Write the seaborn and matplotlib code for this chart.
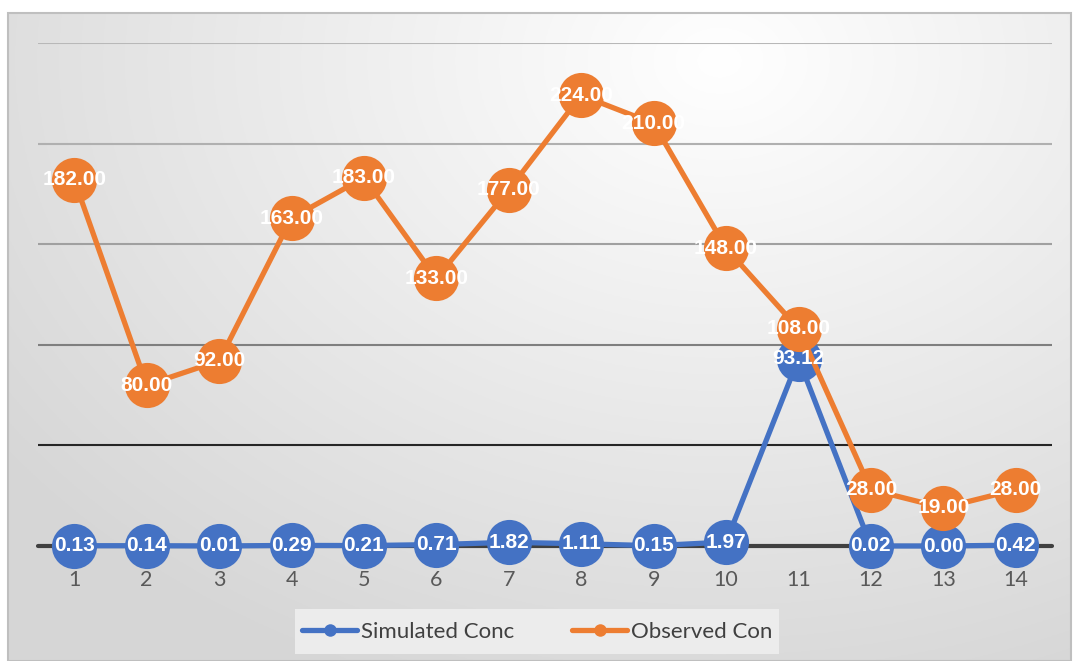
import numpy as np
import pandas as pd
import matplotlib
matplotlib.use("Agg")
import matplotlib.pyplot as plt
from matplotlib.lines import Line2D
from matplotlib.patches import Rectangle
import seaborn as sns

categories = [1, 2, 3, 4, 5, 6, 7, 8, 9, 10, 11, 12, 13, 14]
simulated = [0.13, 0.14, 0.01, 0.29, 0.21, 0.71, 1.82, 1.11, 0.15, 1.97, 93.12, 0.02, 0.00, 0.42]
observed = [182.00, 80.00, 92.00, 163.00, 183.00, 133.00, 177.00, 224.00, 210.00, 148.00, 108.00, 28.00, 19.00, 28.00]
series_names = ["Simulated Conc", "Observed Con"]

BLUE = "#4472C4"
ORANGE = "#ED7D31"

sns.set_theme(style="white")
plt.rcParams["font.family"] = ["Lato", "DejaVu Sans"]

W, H = 1073, 661
fig = plt.figure(figsize=(W / 100, H / 100), dpi=100)
fig.patch.set_facecolor("white")

# gradient background inside chart border
bx0, by0, bx1, by1 = 8, 13, 1071, 661
bg = fig.add_axes([bx0 / W, 1 - by1 / H, (bx1 - bx0) / W, (by1 - by0) / H])
gy, gx = np.mgrid[0:300, 0:500]
gx = gx / 499 * (bx1 - bx0) + bx0
gy = gy / 299 * (by1 - by0) + by0
d = np.sqrt(((gx - 720) / 1.0) ** 2 + ((gy - 60) / 0.75) ** 2)
v = 1.0 - np.clip(d / 900, 0, 1) * 0.16
v = np.clip(v, 0.84, 1.0)
bg.imshow(np.dstack([v, v, v]), aspect="auto", extent=[0, 1, 0, 1], origin="upper")
bg.set_xlim(0, 1)
bg.set_ylim(0, 1)
bg.axis("off")
fig.add_artist(Rectangle((bx0 / W, 1 - by1 / H), (bx1 - bx0) / W, (by1 - by0) / H,
                         transform=fig.transFigure, fill=False, edgecolor="#bfbfbf", lw=1.5, zorder=5))

ax = fig.add_axes([38 / W, 1 - 546 / H, (1052 - 38) / W, (546 - 43) / H])
ax.set_facecolor("none")

df = pd.DataFrame({"idx": np.arange(len(categories)), "sim": simulated, "obs": observed})

# gridlines
grid_vals = [50, 100, 150, 200, 250]
grid_cols = ["#262626", "#7f7f7f", "#a0a0a0", "#b0b0b0", "#b8b8b8"]
for gv, gc in zip(grid_vals, grid_cols):
    ax.axhline(gv, color=gc, lw=1.5, zorder=1)
ax.axhline(0, color="#404040", lw=3, zorder=1, clip_on=False)

ms = 32.5
lw = 3.8
sns.lineplot(data=df, x="idx", y="sim", ax=ax, color=BLUE, marker="o", markersize=ms,
             linewidth=lw, markeredgewidth=0, zorder=3, legend=False, clip_on=False)
sns.lineplot(data=df, x="idx", y="obs", ax=ax, color=ORANGE, marker="o", markersize=ms,
             linewidth=lw, markeredgewidth=0, zorder=4, legend=False, clip_on=False)

for i, (s, o) in enumerate(zip(simulated, observed)):
    ax.text(i, s, f"{s:.2f}", color="white", fontsize=15, fontweight="bold",
            family=["Liberation Sans", "DejaVu Sans"],
            ha="center", va="center", zorder=6)
    ax.text(i, o, f"{o:.2f}", color="white", fontsize=15, fontweight="bold",
            family=["Liberation Sans", "DejaVu Sans"],
            ha="center", va="center", zorder=6)

ax.set_xlim(-0.5, len(categories) - 0.5)
ax.set_ylim(0, 250)
ax.set_xticks(np.arange(len(categories)))
ax.set_xticklabels([str(c) for c in categories], fontsize=15.5, color="#595959")
ax.set_yticks([])
ax.tick_params(axis="x", length=0, pad=17)
ax.set_xlabel("")
ax.set_ylabel("")
for sp in ax.spines.values():
    sp.set_visible(False)

# legend
lx0, ly0, lx1, ly1 = 295, 609, 779, 654
fig.add_artist(Rectangle((lx0 / W, 1 - ly1 / H), (lx1 - lx0) / W, (ly1 - ly0) / H,
                         transform=fig.transFigure, facecolor="#ececec", edgecolor="none", zorder=2))
handles = [Line2D([], [], color=BLUE, lw=lw, marker="o", markersize=9, markeredgewidth=0),
           Line2D([], [], color=ORANGE, lw=lw, marker="o", markersize=9, markeredgewidth=0)]
leg = fig.legend(handles, series_names, loc="center", bbox_to_anchor=((lx0 + lx1) / 2 / W, 1 - (ly0 + ly1) / 2 / H),
                 ncol=2, frameon=False, fontsize=16, handlelength=2.5, handletextpad=0.15,
                 columnspacing=2.6)
for t in leg.get_texts():
    t.set_color("#404040")

fig.savefig("out.png", dpi=100)
